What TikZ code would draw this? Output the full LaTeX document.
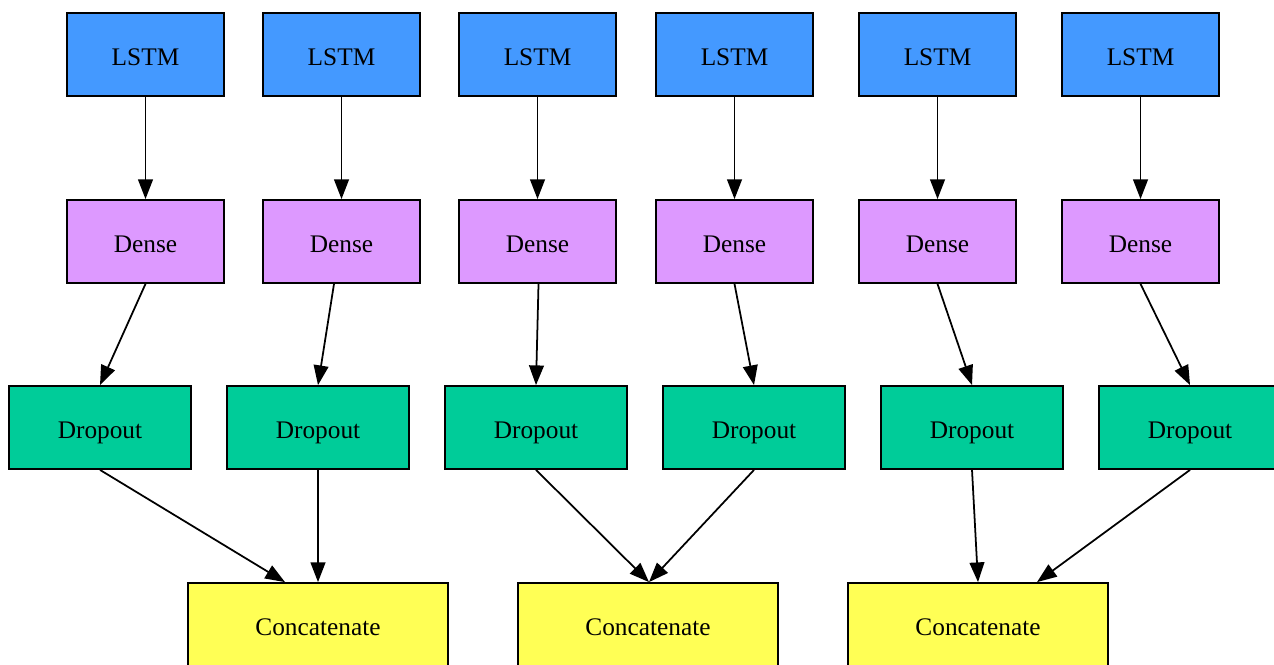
\documentclass[tikz,border=0pt]{standalone}
\usepackage{fontspec}
\setmainfont{Liberation Serif}
\usetikzlibrary{arrows.meta,calc}

\definecolor{lstmblue}{HTML}{4499FF}
\definecolor{densepurple}{HTML}{DD99FF}
\definecolor{dropgreen}{HTML}{00CC99}
\definecolor{concyellow}{HTML}{FFFF55}

\tikzset{
  layer/.style={draw=black, line width=0.5pt, rectangle, inner sep=0pt,
    minimum height=0.83cm, text height=6pt, text depth=0pt,
    font=\fontsize{7.2}{8.6}\selectfont},
  lstmbox/.style={layer, fill=lstmblue, minimum width=1.57cm},
  densebox/.style={layer, fill=densepurple, minimum width=1.57cm},
  dropbox/.style={layer, fill=dropgreen, minimum width=1.82cm},
  concbox/.style={layer, fill=concyellow, minimum width=2.60cm},
  flow/.style={line width=0.5pt, -{Triangle[length=5.6pt, width=4.2pt]}}
}

\begin{document}
\begin{tikzpicture}[x=0.01cm, y=-0.01cm]
  \useasboundingbox (0,0) rectangle (1274,664);
  \clip (0,0) rectangle (1274,664);

  % LSTM row
  \node[lstmbox] (l1) at (145.5,54.5) {LSTM};
  \node[lstmbox] (l2) at (341.5,54.5) {LSTM};
  \node[lstmbox] (l3) at (537.5,54.5) {LSTM};
  \node[lstmbox] (l4) at (734.5,54.5) {LSTM};
  \node[lstmbox] (l5) at (937.5,54.5) {LSTM};
  \node[lstmbox] (l6) at (1140.5,54.5) {LSTM};

  % Dense row
  \node[densebox] (d1) at (145.5,241.5) {Dense};
  \node[densebox] (d2) at (341.5,241.5) {Dense};
  \node[densebox] (d3) at (537.5,241.5) {Dense};
  \node[densebox] (d4) at (734.5,241.5) {Dense};
  \node[densebox] (d5) at (937.5,241.5) {Dense};
  \node[densebox] (d6) at (1140.5,241.5) {Dense};

  % Dropout row
  \node[dropbox] (p1) at (100,427.5) {Dropout};
  \node[dropbox] (p2) at (318,427.5) {Dropout};
  \node[dropbox] (p3) at (536,427.5) {Dropout};
  \node[dropbox] (p4) at (754,427.5) {Dropout};
  \node[dropbox] (p5) at (972,427.5) {Dropout};
  \node[dropbox] (p6) at (1190,427.5) {Dropout};

  % Concatenate row
  \node[concbox] (c1) at (318,624.5) {Concatenate};
  \node[concbox] (c2) at (648,624.5) {Concatenate};
  \node[concbox] (c3) at (978,624.5) {Concatenate};

  % LSTM -> Dense
  \foreach \i in {1,...,6} {
    \draw[flow] (l\i.south) -- (d\i.north);
  }

  % Dense -> Dropout
  \draw[flow] (d1.south) -- (p1.north);
  \draw[flow] ($(d2.south)+(-7.5,0)$) -- (p2.north);
  \draw[flow] ($(d3.south)+(1,0)$) -- (p3.north);
  \draw[flow] (d4.south) -- (p4.north);
  \draw[flow] (d5.south) -- (p5.north);
  \draw[flow] (d6.south) -- (p6.north);

  % Dropout -> Concatenate
  \draw[flow] (p1.south) -- ($(c1.north)+(-33,0)$);
  \draw[flow] (p2.south) -- (c1.north);
  \draw[flow] (p3.south) -- ($(c2.north)+(1,0)$);
  \draw[flow] (p4.south) -- ($(c2.north)+(1,0)$);
  \draw[flow] (p5.south) -- (c3.north);
  \draw[flow] (p6.south) -- ($(c3.north)+(59,0)$);
\end{tikzpicture}
\end{document}
